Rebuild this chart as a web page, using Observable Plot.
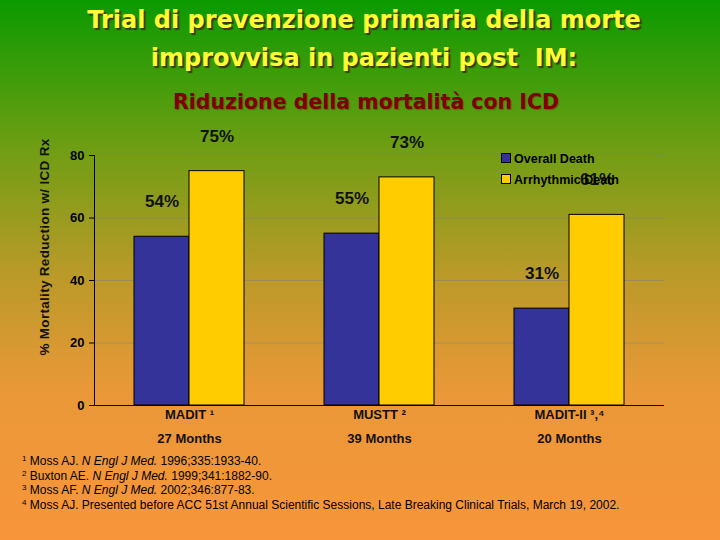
<!DOCTYPE html>
<html><head><meta charset="utf-8">
<script src="https://cdn.jsdelivr.net/npm/d3@7"></script>
<script src="https://cdn.jsdelivr.net/npm/@observablehq/plot@0.6"></script>
<style>
body{margin:0;}
#page{position:relative;width:720px;height:540px;overflow:hidden;
 background:linear-gradient(to bottom,#0b9a00 0%,#6a9e12 26%,#b89a28 50%,#e99838 72%,#f8953a 100%);
 font-family:Arial,"Liberation Sans",sans-serif;}
.title{position:absolute;left:0;width:728px;text-align:center;color:#ffff33;
 font-family:"Comic Sans MS","DejaVu Sans",sans-serif;font-size:24px;font-weight:600;
 text-shadow:2px 2px 1px #3a3a10;white-space:nowrap;}
#sub{position:absolute;left:0;width:732px;text-align:center;color:#800000;
 font-family:"Comic Sans MS","DejaVu Sans",sans-serif;font-size:20.5px;font-weight:600;top:90px;
 text-shadow:1px 1px 1px #556a10;}
#chart{position:absolute;left:0;top:120px;}
#ylab{position:absolute;left:44px;top:247px;transform:translate(-50%,-50%) rotate(-90deg);
 font-size:13.5px;font-weight:bold;white-space:nowrap;color:#111;letter-spacing:0.3px;}
#legend{position:absolute;left:501px;top:149px;font-size:12.5px;font-weight:bold;line-height:21px;}
#legend span.sw{display:inline-block;width:8px;height:8px;border:1px solid #000;margin-right:3px;vertical-align:0px;}
#notes{position:absolute;left:22px;top:454px;font-size:12px;line-height:14.7px;color:#000;}
#notes div{height:14.7px;}
#notes sup{font-size:8px;vertical-align:4px;line-height:0;}
</style></head><body>
<div id="page">
 <div class="title" style="top:6px">Trial di prevenzione primaria della morte</div>
 <div class="title" style="top:44px">improvvisa in pazienti post&nbsp; IM:</div>
 <div id="sub">Riduzione della mortalità con ICD</div>
 <div id="ylab">% Mortality Reduction w/ ICD Rx</div>
 <div id="chart"></div>
 <div id="legend"></div>
 <div id="notes"></div>
</div>
<script>
const trials = ["MADIT","MUSTT","MADIT-II"];
const refs = ["¹","²","³,⁴"];
const durations = ["27 Months","39 Months","20 Months"];
const series = ["Overall Death","Arrhythmic Death"];
const overall = [54,55,31];
const arrhythmic = [75,73,61];
const yTicks = [0,20,40,60,80];
const colors = ["#333399","#ffcc00"];
const footnotes = [
 ["1","Moss AJ. <i>N Engl J Med.</i> 1996;335:1933-40."],
 ["2","Buxton AE. <i>N Engl J Med.</i> 1999;341:1882-90."],
 ["3","Moss AF. <i>N Engl J Med.</i> 2002;346:877-83."],
 ["4","Moss AJ. Presented before ACC 51st Annual Scientific Sessions, Late Breaking Clinical Trials, March 19, 2002."]
];

const data = trials.flatMap((t,i)=>[
  {trial:t, series:series[0], value:overall[i]},
  {trial:t, series:series[1], value:arrhythmic[i]}
]);
const labels = trials.map((t,i)=>({trial:t, ref:refs[i], dur:durations[i]}));

const chart = Plot.plot({
  width:720, height:340, marginTop:35, marginBottom:55, marginLeft:93, marginRight:55,
  style:{background:"transparent", fontFamily:"Arial, 'Liberation Sans', sans-serif", color:"#000", overflow:"visible"},
  fx:{domain:trials, padding:0, axis:null},
  x:{domain:series, paddingInner:0, paddingOuter:0.72, axis:null},
  y:{domain:[0,80], axis:null},
  color:{domain:series, range:colors},
  marks:[
    Plot.gridY(yTicks,{stroke:"#808080", strokeOpacity:0.55}),
    Plot.axisY(yTicks,{tickSize:5, tickPadding:5, fontSize:13, fontWeight:"bold", label:null, anchor:"left"}),
    Plot.barY(data,{fx:"trial", x:"series", y:"value", fill:"series", stroke:"#000", strokeWidth:1}),
    Plot.text(data,{fx:"trial", x:"series", y:"value", text:d=>d.value+"%", dy:-35, fontSize:17, fontWeight:"bold", fill:"#111"}),
    Plot.ruleY([0],{stroke:"#000"}),
    Plot.frame({anchor:"left", facetAnchor:"left", stroke:"#000"}),
    Plot.text(labels,{fx:"trial", x:null, y:null, frameAnchor:"bottom", text:d=>d.trial+" "+d.ref, dy:13, fontSize:13, fontWeight:"bold", fill:"#111"}),
    Plot.text(labels,{fx:"trial", x:null, y:null, frameAnchor:"bottom", text:"dur", dy:37, fontSize:13, fontWeight:"bold", fill:"#111"})
  ]
});
document.getElementById("chart").appendChild(chart);

document.getElementById("legend").innerHTML = series.map((s,i)=>
  `<div><span class="sw" style="background:${colors[i]}"></span>${s}</div>`).join("");
document.getElementById("notes").innerHTML = footnotes.map(([n,t])=>`<div><sup>${n}</sup> ${t}</div>`).join("");
</script>
</body></html>
